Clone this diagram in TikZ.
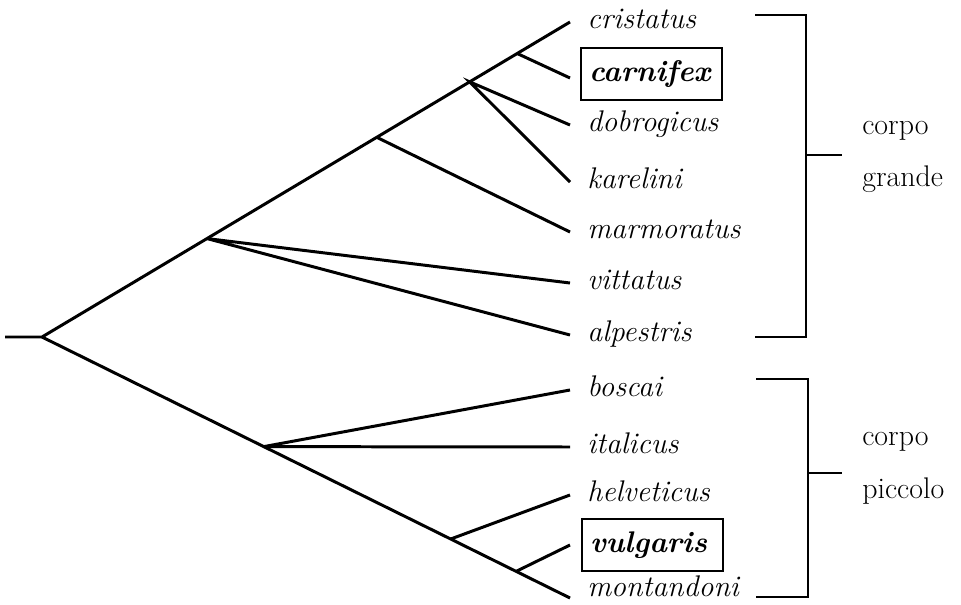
\documentclass[tikz,border=0pt]{standalone}
\usepackage{fontspec}
\usetikzlibrary{positioning,calc}

\begin{document}
\begin{tikzpicture}[x=0.02cm, y=-0.02cm,
            branch/.style={draw, line width=1.7pt},
            leaf/.style={inner sep=0pt, anchor=mid west, font=\fontsize{17}{20}\selectfont\itshape},
            sel/.style={draw, line width=1.2pt, anchor=west, inner xsep=0.16cm, text width=2.5cm,
                        minimum height=1.05cm, font=\fontsize{17}{20}\selectfont\bfseries\itshape},
            group/.style={align=left, anchor=west, inner sep=0pt, font=\fontsize{17}{30}\selectfont}]
        \useasboundingbox (0,0) rectangle (961,605);
        \coordinate (stem) at (5,337);
        \coordinate (root) at (42,337);
        \coordinate (tcri) at (570,22);
        \coordinate (tmon) at (570,598);
        \foreach \t/\y in {car/78, dob/125, kar/182, mar/232, vit/283, alp/335,
                           bos/390, ita/447, hel/495, vul/545}
            \coordinate (t\t) at (570,\y);
        \coordinate (nvit) at ($(root)!0.3125!(tcri)$);
        \coordinate (nmar) at ($(root)!0.634!(tcri)$);
        \coordinate (ndob) at ($(root)!0.81!(tcri)$);
        \coordinate (ncar) at ($(root)!0.90!(tcri)$);
        \coordinate (nita) at ($(root)!0.42!(tmon)$);
        \coordinate (nhel) at ($(root)!0.774!(tmon)$);
        \coordinate (nvul) at ($(root)!0.898!(tmon)$);
        \foreach \t/\name in {cri/cristatus, dob/dobrogicus, kar/karelini, mar/marmoratus,
                              vit/vittatus, alp/alpestris, bos/boscai, ita/italicus,
                              hel/helveticus}
            \node[leaf, right=0.34cm of t\t, anchor=mid west, yshift=-0.06cm] (\name) {\name};
        \node[leaf, right=0.34cm of tmon, anchor=mid west, yshift=0.1cm] (montandoni) {montandoni};
        \node[sel, right=0.2cm of tcar, anchor=west, yshift=0.08cm] (carnifex) {carnifex};
        \node[sel, right=0.22cm of tvul, anchor=west] (vulgaris) {vulgaris};
        \draw[branch] (stem) -- (root) -- (tcri);
        \draw[branch] (root) -- (tmon);
        \draw[branch] (ncar) -- (tcar);
        \draw[branch] (tdob) -- (ndob) -- (tkar);
        \draw[branch] (nmar) -- (tmar);
        \draw[branch] (tvit) -- (nvit) -- (talp);
        \draw[branch] (tbos) -- (nita) -- (tita);
        \draw[branch] (nhel) -- (thel);
        \draw[branch] (nvul) -- (tvul);
        \coordinate (bigtop) at (755,15);
        \coordinate (bigbot) at (755,337);
        \coordinate (bigtick) at (806,155);
        \coordinate (smalltop) at (756,379);
        \coordinate (smallbot) at (756,597);
        \coordinate (smalltick) at (808,473);
        \draw[branch] (bigtop) -- ++(51,0) |- (bigbot);
        \draw[branch] (bigtick) -- ++(36,0) coordinate (bigend);
        \draw[branch] (smalltop) -- ++(52,0) |- (smallbot);
        \draw[branch] (smalltick) -- ++(34,0) coordinate (smallend);
        \node[group, right=0.4cm of bigend, anchor=west, yshift=-0.04cm] (big) {corpo\\grande};
        \node[group, right=0.4cm of smallend, anchor=west, yshift=0.1cm] (small) {corpo\\piccolo};
\end{tikzpicture}
\end{document}
